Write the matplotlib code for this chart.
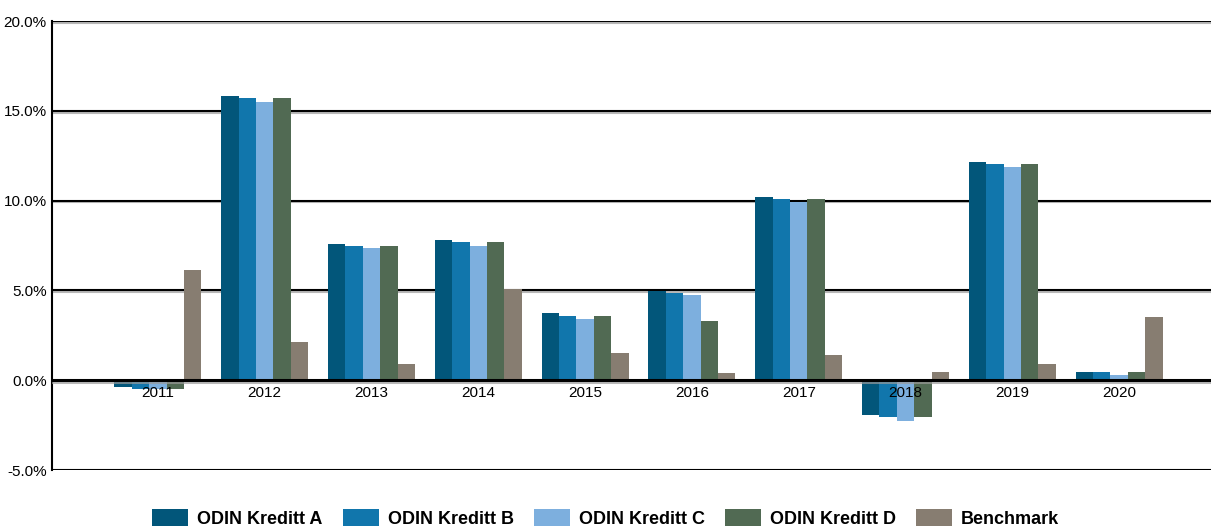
import matplotlib
matplotlib.use("Agg")
import matplotlib.pyplot as plt
import matplotlib.patheffects as pe
import numpy as np

years = ["2011", "2012", "2013", "2014", "2015", "2016", "2017", "2018", "2019", "2020"]
series_names = ["ODIN Kreditt A", "ODIN Kreditt B", "ODIN Kreditt C", "ODIN Kreditt D", "Benchmark"]
kreditt_a = [-0.35, 15.82, 7.58, 7.80, 3.75, 4.96, 10.20, -1.95, 12.14, 0.45]
kreditt_b = [-0.46, 15.71, 7.47, 7.69, 3.57, 4.85, 10.08, -2.06, 12.03, 0.45]
kreditt_c = [-0.46, 15.49, 7.35, 7.47, 3.40, 4.74, 9.90, -2.28, 11.87, 0.28]
kreditt_d = [-0.46, 15.71, 7.47, 7.69, 3.57, 3.29, 10.08, -2.06, 12.03, 0.45]
benchmark = [6.13, 2.13, 0.89, 5.07, 1.52, 0.41, 1.39, 0.45, 0.89, 3.51]
y_ticks = [-5, 0, 5, 10, 15, 20]
colors = ["#02567A", "#1176AC", "#7DAFDE", "#516A53", "#877D71"]

plt.rcParams["font.family"] = ["Liberation Sans Narrow", "Liberation Sans", "DejaVu Sans"]

fig = plt.figure(figsize=(12.11, 5.27), dpi=100)
ax = fig.add_axes([0.043, 0.108, 0.957, 0.852])

x = np.arange(len(years))
width = 0.163
all_series = [kreditt_a, kreditt_b, kreditt_c, kreditt_d, benchmark]
handles = []
for i, (vals, name, col) in enumerate(zip(all_series, series_names, colors)):
    offs = (i - 2) * width
    h = ax.bar(x + offs, vals, width=width, color=col, label=name, zorder=3, linewidth=0)
    handles.append(h)

shadow = [pe.SimpleLineShadow(offset=(0, -1.2), shadow_color="#9a9a9a", alpha=0.7), pe.Normal()]
for t in y_ticks:
    if t == 0:
        ax.axhline(t, color="black", lw=2.2, zorder=4, path_effects=shadow)
    else:
        ax.axhline(t, color="black", lw=1.5, zorder=1, path_effects=shadow)

ax.set_xlim(-0.99, 9.86)
ax.set_ylim(-5, 20)
ax.set_yticks(y_ticks)
ax.set_yticklabels([f"{t:.1f}%" for t in y_ticks], fontsize=11)
ax.tick_params(axis="y", length=0, pad=4)
ax.set_xticks([])
for side in ["top", "right", "bottom"]:
    ax.spines[side].set_visible(False)
ax.spines["left"].set_linewidth(1.5)
ax.spines["left"].set_color("black")

for xi, yr in zip(x, years):
    ax.annotate(yr, (xi, 0), xytext=(0, -4), textcoords="offset points",
                ha="center", va="top", fontsize=11, zorder=6)

fig.legend(handles=handles, labels=series_names, loc="center", bbox_to_anchor=(0.5, 0.016),
           ncol=5, frameon=False, prop={"weight": "bold", "size": 13},
           handlelength=2.0, handleheight=1.1, handletextpad=0.5, columnspacing=1.1)

fig.savefig("out.png", dpi=100, facecolor="white")
